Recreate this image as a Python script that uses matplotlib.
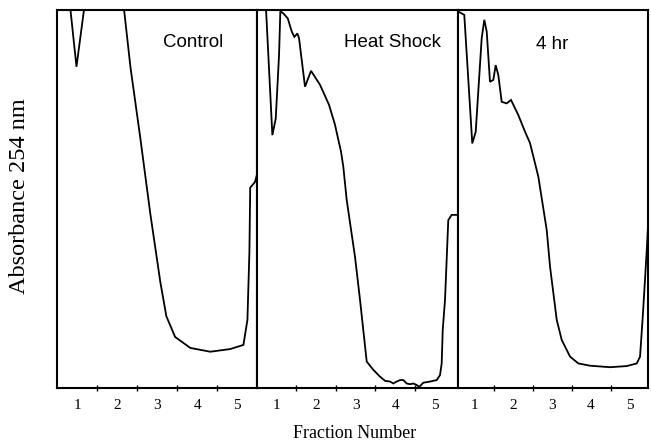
import matplotlib
matplotlib.use("Agg")
import matplotlib.pyplot as plt

# ---- data (x = fraction number, y = relative absorbance; >1 is off-scale) ----
panel_titles = ["Control", "Heat Shock", "4 hr"]
tick_labels = ["1", "2", "3", "4", "5"]
label_positions = [1, 2, 3, 4, 5]
tick_marks = [1.5, 2.5, 3.5, 4.5]

control_x = [0.50, 0.78, 0.98, 1.23, 1.70, 2.12, 2.33, 2.58, 2.83, 3.08, 3.23, 3.45,
             3.83, 4.33, 4.83, 5.16, 5.26, 5.31, 5.33, 5.45, 5.50]
control_y = [1.30, 1.05, 0.85, 1.05, 1.30, 1.05, 0.85, 0.66, 0.46, 0.28, 0.19, 0.135,
             0.106, 0.096, 0.103, 0.114, 0.18, 0.36, 0.53, 0.545, 0.565]

heat_x = [0.50, 0.704, 0.889, 0.975, 1.058, 1.091, 1.167, 1.278, 1.380, 1.446, 1.522,
          1.565, 1.716, 1.868, 2.096, 2.324, 2.476, 2.628, 2.686, 2.772, 2.982, 3.109,
          3.192, 3.278, 3.446, 3.615, 3.742, 3.868, 3.952, 4.038, 4.122, 4.205, 4.291,
          4.375, 4.458, 4.544, 4.610, 4.711, 4.881, 5.051, 5.134, 5.177, 5.203, 5.261,
          5.344, 5.430, 5.590]
heat_y = [1.20, 1.053, 0.669, 0.713, 0.881, 0.997, 0.991, 0.978, 0.943, 0.929, 0.938,
          0.925, 0.797, 0.839, 0.802, 0.749, 0.696, 0.625, 0.585, 0.497, 0.347, 0.233,
          0.153, 0.070, 0.048, 0.030, 0.019, 0.017, 0.012, 0.017, 0.021, 0.021, 0.012,
          0.010, 0.012, 0.008, 0.003, 0.014, 0.017, 0.021, 0.034, 0.065, 0.153, 0.233,
          0.444, 0.458, 0.458]

hr4_x = [0.615, 0.751, 0.956, 1.044, 1.197, 1.264, 1.326, 1.410, 1.495, 1.556, 1.623,
         1.710, 1.838, 1.949, 2.136, 2.308, 2.436, 2.649, 2.864, 2.949, 3.121, 3.249,
         3.462, 3.674, 3.974, 4.487, 4.915, 5.172, 5.256, 5.326, 5.428, 5.462]
hr4_y = [0.995, 0.987, 0.647, 0.678, 0.925, 0.974, 0.943, 0.810, 0.815, 0.854, 0.828,
         0.757, 0.753, 0.762, 0.722, 0.678, 0.648, 0.559, 0.418, 0.321, 0.180, 0.127,
         0.083, 0.065, 0.059, 0.055, 0.058, 0.065, 0.083, 0.189, 0.365, 0.431]

series = [(control_x, control_y), (heat_x, heat_y), (hr4_x, hr4_y)]
xlims = [(0.50, 5.50), (0.50, 5.59), (0.59, 5.46)]

# ---- layout ----
W, H = 651, 445
fig = plt.figure(figsize=(W / 100, H / 100), dpi=100)
panel_px = [(57.3, 257.0), (257.0, 458.0), (458.0, 648.0)]
top_px, bot_px = 10.0, 388.0
title_pos = [(0.682, 0.914), (0.675, 0.913), (0.495, 0.910)]

serif = ["Liberation Serif", "DejaVu Serif"]
sans = ["Liberation Sans", "DejaVu Sans"]

for i, ((l, r), (xs, ys), xl, title, tp) in enumerate(
        zip(panel_px, series, xlims, panel_titles, title_pos)):
    ax = fig.add_axes([l / W, 1 - bot_px / H, (r - l) / W, (bot_px - top_px) / H])
    ax.plot(xs, ys, color="black", lw=1.3, solid_joinstyle="miter")
    ax.set_xlim(*xl)
    ax.set_ylim(0, 1)
    for s in ax.spines.values():
        s.set_linewidth(1.5)
    ax.set_yticks([])
    ax.set_xticks(label_positions)
    ax.set_xticklabels(tick_labels, fontfamily=serif, fontsize=11)
    ax.tick_params(axis="x", which="major", length=0, pad=8)
    ax.set_xticks(tick_marks, minor=True)
    ax.tick_params(axis="x", which="minor", length=5, width=1.0, direction="inout")
    ax.text(tp[0], tp[1], title, transform=ax.transAxes, ha="center", va="center",
            fontfamily=sans, fontsize=13.5)

fig.text(355 / W, 1 - 433 / H, "Fraction Number", ha="center", va="center",
         fontfamily=serif, fontsize=13)
fig.text(20 / W, 1 - 196 / H, "Absorbance 254 nm", ha="center", va="center",
         rotation=90, fontfamily=serif, fontsize=17.5)

fig.savefig("out.png", dpi=100, facecolor="white")
